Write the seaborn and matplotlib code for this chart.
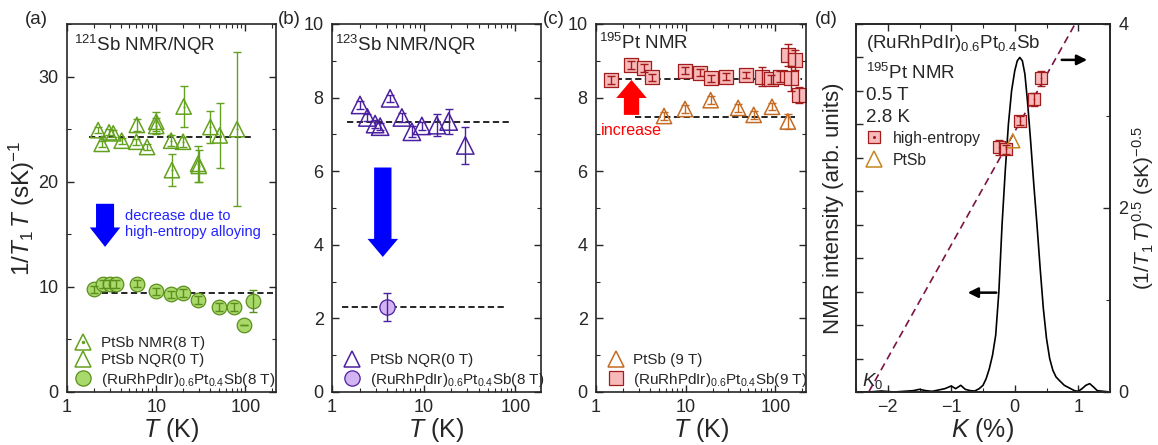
import numpy as np
import matplotlib
matplotlib.use('Agg')
import matplotlib.pyplot as plt
import seaborn as sns
from matplotlib.lines import Line2D
from matplotlib.patches import ArrowStyle
from matplotlib.ticker import MultipleLocator, LogLocator, NullFormatter, FixedLocator

# ---------------- data ----------------
# (a) 121Sb
a_nqr_T = [2.23, 2.45, 2.96, 3.3, 4.1, 6.07, 6.0, 7.9]
a_nqr_v = [24.9, 23.6, 24.7, 24.6, 23.9, 25.4, 23.8, 23.3]
a_nqr_e = [0.3, 0.3, 0.3, 0.3, 0.3, 0.6, 0.3, 0.3]
a_nmr_T = [10, 10, 14.7, 15, 20.3, 20, 29.4, 30, 40.5, 51.5, 80.5]
a_nmr_v = [25.7, 25.3, 23.9, 21.1, 27.15, 23.8, 21.7, 21.5, 25.2, 24.4, 25.0]
a_nmr_e = [0.9, 0.8, 0.5, 1.5, 1.95, 0.5, 1.7, 1.5, 1.5, 3.1, 7.3]
a_he_T = [2.0, 2.56, 3.04, 3.55, 6.06, 10, 14.6, 19.9, 29.1, 50, 73.9, 95.3, 123]
a_he_v = [9.75, 10.26, 10.26, 10.26, 10.3, 9.56, 9.3, 9.43, 8.74, 8.1, 8.1, 6.36, 8.67]
a_he_e = [0.35, 0.35, 0.35, 0.35, 0.35, 0.35, 0.35, 0.35, 0.35, 0.35, 0.35, 0.0, 1.05]
a_fit_pt = 24.3
a_fit_he = 9.43

# (b) 123Sb
b_nqr_T = [2.02, 2.43, 2.95, 3.35, 4.3, 5.78, 7.43, 9.55, 13.9, 18.7, 28.4]
b_nqr_v = [7.8, 7.46, 7.28, 7.21, 7.98, 7.46, 7.07, 7.23, 7.25, 7.35, 6.7]
b_nqr_e = [0.1, 0.1, 0.1, 0.1, 0.1, 0.12, 0.15, 0.12, 0.3, 0.35, 0.5]
b_he_T = [3.96]
b_he_v = [2.32]
b_he_e = [0.38]
b_fit_pt = 7.35
b_fit_he = 2.3

# (c) 195Pt
c_pt_T = [5.74, 9.84, 19, 38.5, 57.4, 91.9, 138]
c_pt_v = [7.5, 7.69, 7.93, 7.72, 7.53, 7.75, 7.35]
c_pt_e = [0.1, 0.1, 0.1, 0.1, 0.1, 0.1, 0.2]
c_he_T = [1.47, 2.45, 3.44, 4.19, 9.84, 14.4, 19.4, 28.5, 47.6, 71, 90, 113, 150, 138, 166, 185]
c_he_v = [8.48, 8.89, 8.8, 8.55, 8.73, 8.68, 8.52, 8.57, 8.61, 8.57, 8.5, 8.57, 8.52, 9.16, 9.02, 8.07]
c_he_e = [0.1, 0.1, 0.1, 0.1, 0.1, 0.1, 0.1, 0.1, 0.08, 0.25, 0.12, 0.15, 0.35, 0.3, 0.28, 0.22]
c_fit_he = 8.5
c_fit_pt = 7.48

# (d) spectrum and K-plot
d_spec_K = [-2.5, -2.3, -2.1, -1.9, -1.75, -1.6, -1.5, -1.4, -1.3, -1.2, -1.1, -1.0, -0.93,
            -0.85, -0.78, -0.7, -0.63, -0.56, -0.5, -0.45, -0.4, -0.35, -0.3, -0.25, -0.2,
            -0.15, -0.1, -0.05, 0.0, 0.04, 0.08, 0.12, 0.16, 0.2, 0.25, 0.3, 0.35, 0.4, 0.45,
            0.5, 0.55, 0.6, 0.65, 0.7, 0.78, 0.86, 0.94, 1.0, 1.06, 1.12, 1.18, 1.24, 1.3,
            1.4, 1.5]
d_spec_I = [0.0, 0.0, 0.003, 0.0, 0.002, 0.004, 0.008, 0.004, 0.002, 0.006, 0.01, 0.018, 0.01,
            0.02, 0.008, 0.004, 0.003, 0.01, 0.02, 0.04, 0.07, 0.11, 0.17, 0.3, 0.5,
            0.66, 0.8, 0.9, 0.96, 0.99, 1.0, 0.99, 0.95, 0.87, 0.75, 0.62, 0.5, 0.37, 0.25,
            0.16, 0.1, 0.065, 0.045, 0.035, 0.02, 0.012, 0.004, 0.002, 0.01, 0.02, 0.025, 0.015, 0.004,
            0.002, 0.0]
d_he_K = [-0.25, -0.13, 0.08, 0.31, 0.41]
d_he_y = [2.66, 2.64, 2.95, 3.18, 3.41]
d_he_e = [0.08, 0.05, 0.05, 0.07, 0.08]
d_pt_K = [-0.03]
d_pt_y = [2.73]
d_fit_K = [-2.3, 0.95]
d_fit_y = [0.0, 4.0]

# ---------------- style ----------------
sns.set_style('ticks')
plt.rcParams['font.family'] = ['Liberation Sans', 'DejaVu Sans']
plt.rcParams['mathtext.fontset'] = 'custom'
plt.rcParams['mathtext.rm'] = 'Liberation Sans'
plt.rcParams['mathtext.it'] = 'Liberation Sans:italic'
plt.rcParams['mathtext.bf'] = 'Liberation Sans:bold'
plt.rcParams['lines.scale_dashes'] = False

GREEN = '#63a11f'
GREEN_F = '#a9d96b'
GREEN_E = '#5b8f1c'
PURPLE = '#4a1fa0'
PURPLE_F = '#d3b4f2'
RED_E = '#a31c1c'
RED_F = '#f7b9b9'
ORANGE = '#c46a22'
GOLD = '#c4861c'
MAROON = '#7a1445'

W, H = 1158, 445
fig = plt.figure(figsize=(11.58, 4.45), dpi=100)


def add_ax(l, r, t=24, b=392):
    return fig.add_axes([l / W, (H - b) / H, (r - l) / W, (b - t) / H])


axa = add_ax(67, 276)
axb = add_ax(332, 541)
axc = add_ax(596, 806)
axd = add_ax(856, 1110)

XLAB = 18
YLAB = 17.5
TICK = 13


def style_log(ax, xmax, ymax, ymaj, ymin):
    ax.set_xscale('log')
    ax.set_xlim(1, xmax)
    ax.set_ylim(0, ymax)
    ax.yaxis.set_major_locator(MultipleLocator(ymaj))
    ax.yaxis.set_minor_locator(MultipleLocator(ymin))
    ax.xaxis.set_major_locator(FixedLocator([1, 10, 100]))
    ax.set_xticklabels(['1', '10', '100'])
    ax.xaxis.set_minor_locator(LogLocator(base=10, subs=np.arange(2, 10)))
    ax.xaxis.set_minor_formatter(NullFormatter())
    ax.tick_params(which='both', direction='in', top=True, right=True, labelsize=TICK)
    ax.tick_params(axis='y', pad=6)
    ax.tick_params(axis='x', pad=5)
    ax.tick_params(which='major', length=5, width=1)
    ax.tick_params(which='minor', length=3, width=0.8)
    for s in ax.spines.values():
        s.set_linewidth(1.2)
    ax.set_xlabel(r'$T$ (K)', fontsize=XLAB, labelpad=0)


def scatter(ax, x, y, marker, size, edge, face, lw=1.1, z=2):
    sns.scatterplot(x=x, y=y, ax=ax, marker=marker, s=size ** 2, color=edge,
                    linewidth=lw, zorder=z, legend=False)
    pts = ax.collections[-1]
    pts.set_facecolor(face)
    pts.set_edgecolor(edge)


def ebar(ax, x, y, e, color, cap=3, lw=1.0):
    ax.errorbar(x, y, yerr=e, fmt='none', ecolor=color, elinewidth=lw, capsize=cap,
                capthick=lw, zorder=3)


def dashed(ax, x0, x1, y, color='black', lw=1.2, dash=(4.5, 2.5)):
    ax.plot([x0, x1], [y, y], color=color, lw=lw, dashes=dash, zorder=1.5)


def block_arrow(ax, tail, tip, color, tw, hw, hl):
    ax.annotate('', xy=tip, xytext=tail, xycoords='data', textcoords='data',
                arrowprops=dict(arrowstyle=ArrowStyle.Simple(head_length=hl, head_width=hw, tail_width=tw),
                                color=color, shrinkA=0, shrinkB=0, mutation_scale=10, lw=0))


# ---------------- (a) ----------------
style_log(axa, 220, 35, 10, 5)
dashed(axa, 1.78, 119, a_fit_pt)
dashed(axa, 1.89, 205, a_fit_he)
scatter(axa, a_nqr_T, a_nqr_v, '^', 11, GREEN, 'none')
scatter(axa, a_nmr_T, a_nmr_v, '^', 11, GREEN, 'none')
scatter(axa, a_nmr_T, a_nmr_v, 'o', 1.5, GREEN, GREEN, lw=0, z=2.5)
ebar(axa, a_nqr_T, a_nqr_v, a_nqr_e, GREEN)
ebar(axa, a_nmr_T, a_nmr_v, a_nmr_e, GREEN)
scatter(axa, a_he_T, a_he_v, 'o', 10.5, GREEN_E, GREEN_F, lw=0.9)
ebar(axa, a_he_T, a_he_v, a_he_e, GREEN_E)
axa.set_ylabel(r'1/$T_1\,T$ (sK)$^{-1}$', fontsize=YLAB, labelpad=1)
axa.text(0.033, 0.975, r'$^{121}$Sb NMR/NQR', transform=axa.transAxes, va='top', ha='left', fontsize=13.5)
block_arrow(axa, (2.67, 17.9), (2.67, 13.8), 'blue', 1.3, 2.2, 1.4)
axa.text(4.5, 15.95, 'decrease due to\nhigh-entropy alloying', color='#2222ff', fontsize=10.5,
         ha='left', va='center', linespacing=1.15)
h_nmr = (Line2D([], [], ls='none', marker='^', ms=12, mfc='none', mec=GREEN, mew=1.1),
         Line2D([], [], ls='none', marker='o', ms=1.5, mfc=GREEN, mec=GREEN))
h_nqr = Line2D([], [], ls='none', marker='^', ms=12, mfc='none', mec=GREEN, mew=1.1)
h_he = Line2D([], [], ls='none', marker='o', ms=11, mfc=GREEN_F, mec=GREEN_E, mew=0.9)
axa.legend([h_nmr, h_nqr, h_he],
           ['PtSb NMR(8 T)', 'PtSb NQR(0 T)', r'(RuRhPdIr)$_{0.6}$Pt$_{0.4}$Sb(8 T)'],
           loc='lower left', bbox_to_anchor=(-0.02, -0.02), frameon=False, fontsize=11,
           handlelength=1.2, handletextpad=0.6, labelspacing=0.22, borderaxespad=0.3)

# ---------------- (b) ----------------
style_log(axb, 190, 10, 2, 1)
dashed(axb, 1.45, 88, b_fit_pt)
dashed(axb, 1.28, 81, b_fit_he)
scatter(axb, b_nqr_T, b_nqr_v, '^', 12.5, PURPLE, 'none')
ebar(axb, b_nqr_T, b_nqr_v, b_nqr_e, PURPLE)
scatter(axb, b_he_T, b_he_v, 'o', 11, PURPLE, PURPLE_F, lw=0.9)
ebar(axb, b_he_T, b_he_v, b_he_e, PURPLE)
axb.text(0.015, 0.975, r'$^{123}$Sb NMR/NQR', transform=axb.transAxes, va='top', ha='left', fontsize=13.5)
block_arrow(axb, (3.58, 6.1), (3.58, 3.67), 'blue', 1.25, 2.2, 1.3)
h_b1 = Line2D([], [], ls='none', marker='^', ms=12, mfc='none', mec=PURPLE, mew=1.1)
h_b2 = Line2D([], [], ls='none', marker='o', ms=11, mfc=PURPLE_F, mec=PURPLE, mew=0.9)
axb.legend([h_b1, h_b2], ['PtSb NQR(0 T)', r'(RuRhPdIr)$_{0.6}$Pt$_{0.4}$Sb(8 T)'],
           loc='lower left', bbox_to_anchor=(0.0, -0.02), frameon=False, fontsize=11,
           handlelength=1.2, handletextpad=0.6, labelspacing=0.22, borderaxespad=0.3)

# ---------------- (c) ----------------
style_log(axc, 220, 10, 2, 1)
dashed(axc, 1.3, 200, c_fit_he)
dashed(axc, 2.7, 166, c_fit_pt)
scatter(axc, c_pt_T, c_pt_v, '^', 11, ORANGE, 'none')
ebar(axc, c_pt_T, c_pt_v, c_pt_e, ORANGE)
scatter(axc, c_he_T, c_he_v, 's', 10, RED_E, RED_F, lw=0.9)
ebar(axc, c_he_T, c_he_v, c_he_e, RED_E)
axc.text(0.012, 0.975, r'$^{195}$Pt NMR', transform=axc.transAxes, va='top', ha='left', fontsize=13.5)
block_arrow(axc, (2.49, 7.53), (2.49, 8.48), 'red', 1.1, 2.2, 1.3)
axc.text(1.13, 7.1, 'increase', color='red', fontsize=11.6, ha='left', va='center')
h_c1 = Line2D([], [], ls='none', marker='^', ms=12, mfc='none', mec=ORANGE, mew=1.1)
h_c2 = Line2D([], [], ls='none', marker='s', ms=10, mfc=RED_F, mec=RED_E, mew=0.9)
axc.legend([h_c1, h_c2], ['PtSb (9 T)', r'(RuRhPdIr)$_{0.6}$Pt$_{0.4}$Sb(9 T)'],
           loc='lower left', bbox_to_anchor=(0.0, -0.02), frameon=False, fontsize=11,
           handlelength=1.2, handletextpad=0.5, labelspacing=0.22, borderaxespad=0.3)

# ---------------- (d) ----------------
sns.lineplot(x=d_spec_K, y=d_spec_I, ax=axd, color='black', lw=1.2, sort=False, estimator=None)
axd.set_xlim(-2.5, 1.5)
axd.set_ylim(0, 1.1)
axd.xaxis.set_major_locator(FixedLocator([-2, -1, 0, 1]))
axd.set_xticklabels(['\u22122', '\u22121', '0', '1'])
axd.xaxis.set_minor_locator(MultipleLocator(0.5))
axd.yaxis.set_major_locator(MultipleLocator(0.1))
axd.set_yticklabels([])
axd.tick_params(which='both', direction='in', top=True, right=False, labelsize=TICK)
axd.tick_params(axis='x', pad=5)
axd.tick_params(which='major', length=5, width=1)
axd.tick_params(which='minor', length=3, width=0.8)
axd.set_xlabel(r'$K$ (%)', fontsize=XLAB, labelpad=0)
axd.set_ylabel('NMR intensity (arb. units)', fontsize=16, labelpad=5)
for s in axd.spines.values():
    s.set_linewidth(1.2)

axr = axd.twinx()
axr.set_ylim(0, 4)
axr.yaxis.set_major_locator(MultipleLocator(2))
axr.yaxis.set_minor_locator(MultipleLocator(1))
axr.tick_params(which='both', direction='in', labelsize=TICK, pad=6)
axr.tick_params(which='major', length=5, width=1)
axr.tick_params(which='minor', length=3, width=0.8)
axr.set_ylabel(r'$(1/T_1\,T)^{0.5}$ (sK)$^{-0.5}$', fontsize=15, labelpad=1)
for s in axr.spines.values():
    s.set_linewidth(1.2)
axr.plot(d_fit_K, d_fit_y, color=MAROON, lw=1.2, dashes=(5.5, 3.5), zorder=1.5)
scatter(axr, d_he_K, d_he_y, 's', 8.5, RED_E, RED_F, lw=0.9)
ebar(axr, d_he_K, d_he_y, d_he_e, RED_E)
scatter(axr, d_he_K, d_he_y, 'o', 1.2, RED_E, RED_E, lw=0, z=3.5)
scatter(axr, d_pt_K, d_pt_y, '^', 10, GOLD, 'none')

axd.text(0.04, 0.975, r'(RuRhPdIr)$_{0.6}$Pt$_{0.4}$Sb', transform=axd.transAxes, va='top', ha='left', fontsize=13.5)
axd.text(0.04, 0.895, r'$^{195}$Pt NMR', transform=axd.transAxes, va='top', ha='left', fontsize=13.5)
axd.text(0.04, 0.805, '0.5 T', transform=axd.transAxes, va='center', ha='left', fontsize=13.5)
axd.text(0.04, 0.745, '2.8 K', transform=axd.transAxes, va='center', ha='left', fontsize=13.5)
axd.text(0.024, 0.03, r'$K_0$', transform=axd.transAxes, va='center', ha='left', fontsize=13.5)
h_d1 = (Line2D([], [], ls='none', marker='s', ms=8.5, mfc=RED_F, mec=RED_E, mew=0.9),
        Line2D([], [], ls='none', marker='o', ms=1.2, mfc=RED_E, mec=RED_E))
h_d2 = Line2D([], [], ls='none', marker='^', ms=11, mfc='none', mec=GOLD, mew=1.1)
axr.legend([h_d1, h_d2], ['high-entropy', 'PtSb'], loc='upper left', bbox_to_anchor=(-0.01, 0.74),
           frameon=False, fontsize=11.3, handlelength=1.2, handletextpad=0.6, labelspacing=0.45,
           borderaxespad=0.3)
axr.annotate('', xy=(1.14, 3.61), xytext=(0.74, 3.61),
             arrowprops=dict(arrowstyle='-|>,head_length=0.6,head_width=0.3', color='black', lw=1.8,
                             shrinkA=0, shrinkB=0))
axr.annotate('', xy=(-0.74, 1.08), xytext=(-0.29, 1.08),
             arrowprops=dict(arrowstyle='-|>,head_length=0.6,head_width=0.3', color='black', lw=1.8,
                             shrinkA=0, shrinkB=0))

# panel labels
for lab, x in [('(a)', 25), ('(b)', 278), ('(c)', 543), ('(d)', 815)]:
    fig.text(x / W, 1 - 20 / H, lab, fontsize=13.5, ha='left', va='center')

fig.savefig('out.png', dpi=100)
